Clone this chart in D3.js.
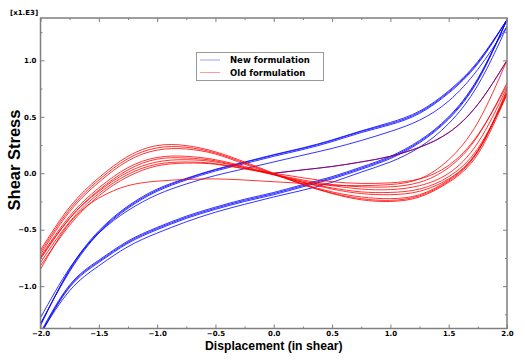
<!DOCTYPE html>
<html><head><meta charset="utf-8">
<script src="https://cdn.jsdelivr.net/npm/d3@7"></script>
<style>body{margin:0;background:#fff}svg{display:block}</style>
</head><body>
<svg id="c" width="525" height="361"></svg>
<script>
// ---- data (x1.E3 shear stress vs displacement) ----
const xGrid = [-2,-1.75,-1.5,-1.25,-1,-0.75,-0.5,-0.25,0,0.25,0.5,0.75,1,1.25,1.5,1.75,2];
const xInit = [0,0.25,0.5,0.75,1,1.25,1.5,1.75,2];
const initialLoading = [0,0.03,0.06,0.10,0.15,0.23,0.36,0.61,1.0];

// New formulation (blue)
const newUpperA = [-1.34,-0.86,-0.52,-0.30,-0.15,-0.05,0.03,0.095,0.16,0.22,0.29,0.37,0.44,0.54,0.72,0.98,1.36];
const newUpperB = [-1.33,-0.87,-0.53,-0.31,-0.16,-0.06,0.02,0.085,0.15,0.21,0.28,0.36,0.43,0.53,0.71,0.97,1.36];
const newUpperC = [-1.35,-0.85,-0.51,-0.29,-0.14,-0.045,0.035,0.10,0.165,0.225,0.295,0.375,0.45,0.55,0.73,0.99,1.36];
const newUpperD = [-1.28,-0.84,-0.53,-0.33,-0.19,-0.095,-0.02,0.04,0.10,0.16,0.22,0.29,0.37,0.47,0.64,0.92,1.30];
const newLowerA = [-1.42,-1.00,-0.78,-0.61,-0.49,-0.39,-0.31,-0.24,-0.18,-0.11,-0.04,0.045,0.14,0.28,0.49,0.83,1.36];
const newLowerB = [-1.41,-0.99,-0.77,-0.60,-0.48,-0.38,-0.30,-0.23,-0.17,-0.10,-0.03,0.055,0.15,0.29,0.50,0.84,1.36];
const newLowerC = [-1.43,-1.01,-0.79,-0.62,-0.50,-0.40,-0.32,-0.25,-0.19,-0.12,-0.05,0.035,0.13,0.27,0.48,0.82,1.36];
const newLowerD = [-1.42,-1.04,-0.82,-0.65,-0.53,-0.43,-0.345,-0.275,-0.21,-0.15,-0.08,0.01,0.10,0.23,0.44,0.78,1.30];

// Old formulation (red)
const oldCycle1 = [-0.68,-0.30,-0.04,0.15,0.245,0.245,0.19,0.10,0.00,-0.10,-0.18,-0.235,-0.25,-0.21,-0.08,0.17,0.70];
const oldCycle2 = [-0.70,-0.32,-0.06,0.13,0.225,0.23,0.18,0.09,-0.005,-0.10,-0.175,-0.225,-0.24,-0.20,-0.07,0.19,0.72];
const oldCycle3 = [-0.72,-0.34,-0.08,0.11,0.205,0.215,0.17,0.08,-0.01,-0.095,-0.165,-0.21,-0.225,-0.19,-0.06,0.20,0.74];
const oldCycle4 = [-0.74,-0.38,-0.13,0.05,0.14,0.15,0.12,0.06,-0.01,-0.08,-0.14,-0.18,-0.19,-0.16,-0.05,0.20,0.72];
const oldCycle5 = [-0.76,-0.40,-0.15,0.03,0.125,0.135,0.11,0.05,-0.015,-0.08,-0.13,-0.165,-0.17,-0.14,-0.03,0.22,0.70];
const oldCycle6 = [-0.75,-0.40,-0.16,0.01,0.10,0.12,0.10,0.05,-0.01,-0.07,-0.11,-0.14,-0.145,-0.11,0.00,0.27,0.76];
const oldCycle7 = [-0.79,-0.43,-0.18,-0.01,0.08,0.10,0.085,0.04,-0.01,-0.06,-0.10,-0.12,-0.12,-0.08,0.05,0.33,0.80];
const oldCycle8 = [-0.82,-0.46,-0.20,-0.03,0.065,0.09,0.08,0.04,0.00,-0.04,-0.075,-0.09,-0.085,-0.05,0.07,0.34,0.78];
const oldFirstUnload = [-0.85,-0.44,-0.22,-0.11,-0.07,-0.055,-0.05,-0.06,-0.075,-0.09,-0.105,-0.11,-0.10,-0.05,0.12,0.45,1.00];

const newSeries = [newUpperA,newUpperB,newUpperC,newUpperD,newLowerA,newLowerB,newLowerC,newLowerD];
const oldSeries = [oldCycle1,oldCycle2,oldCycle3,oldCycle4,oldCycle5,oldCycle6,oldCycle7,oldCycle8,oldFirstUnload];

const xMajor = [-2,-1.5,-1,-0.5,0,0.5,1,1.5,2];
const xMinor = [-1.75,-1.25,-0.75,-0.25,0.25,0.75,1.25,1.75];
const yMajor = [-1,-0.5,0,0.5,1];
const yMinor = [-1.25,-0.75,-0.25,0.25,0.75,1.25];
const legendLabels = ["New formulation","Old formulation"];

// ---- drawing ----
const L=40.5, R=507, T=18, B=328.5;
const svg = d3.select("#c");
const x = d3.scaleLinear().domain([-2,2]).range([L,R]);
const y = d3.scaleLinear().domain([-1.375,1.375]).range([B,T]);

svg.append("defs").append("clipPath").attr("id","clip")
  .append("rect").attr("x",L).attr("y",T).attr("width",R-L).attr("height",B-T);

const line = d3.line().x(d=>x(d[0])).y(d=>y(d[1])).curve(d3.curveNatural);
const g = svg.append("g").attr("clip-path","url(#clip)");

const BLUE="#0000ff", RED="#ff0000";
newSeries.forEach(s=>{
  g.append("path").attr("d",line(xGrid.map((v,i)=>[v,s[i]])))
   .attr("fill","none").attr("stroke",BLUE).attr("stroke-width",1).attr("stroke-opacity",0.8);
});
g.append("path").attr("d",line(xInit.map((v,i)=>[v,initialLoading[i]])))
   .attr("fill","none").attr("stroke",BLUE).attr("stroke-width",1);
oldSeries.forEach(s=>{
  g.append("path").attr("d",line(xGrid.map((v,i)=>[v,s[i]])))
   .attr("fill","none").attr("stroke",RED).attr("stroke-width",1).attr("stroke-opacity",0.8);
});
g.append("path").attr("d",line(xInit.map((v,i)=>[v,initialLoading[i]])))
   .attr("fill","none").attr("stroke",RED).attr("stroke-width",1).attr("stroke-opacity",0.6);

// axes
const AX="#7f7f7f";
const fmt = d3.format(".1f");
function styleAxis(sel){
  sel.select(".domain").remove();
  sel.selectAll("line").attr("stroke",AX).attr("stroke-width",1);
  sel.selectAll("text").attr("fill","#000").style("font-family","'DejaVu Sans',Verdana,sans-serif")
     .style("font-size","7px").style("font-weight","bold");
}
svg.append("g").attr("transform",`translate(0,${B})`)
  .call(d3.axisBottom(x).tickValues(xMajor).tickSize(-4).tickPadding(3).tickFormat(fmt)).call(styleAxis);
svg.append("g").attr("transform",`translate(0,${B})`)
  .call(d3.axisBottom(x).tickValues(xMinor).tickSize(-2).tickFormat("")).call(styleAxis);
svg.append("g").attr("transform",`translate(0,${T})`)
  .call(d3.axisTop(x).tickValues(xMajor).tickSize(-4).tickFormat("")).call(styleAxis);
svg.append("g").attr("transform",`translate(0,${T})`)
  .call(d3.axisTop(x).tickValues(xMinor).tickSize(-2).tickFormat("")).call(styleAxis);
svg.append("g").attr("transform",`translate(${L},0)`)
  .call(d3.axisLeft(y).tickValues(yMajor).tickSize(-4).tickPadding(4).tickFormat(fmt)).call(styleAxis);
svg.append("g").attr("transform",`translate(${L},0)`)
  .call(d3.axisLeft(y).tickValues(yMinor).tickSize(-2).tickFormat("")).call(styleAxis);
svg.append("g").attr("transform",`translate(${R},0)`)
  .call(d3.axisRight(y).tickValues(yMajor).tickSize(-4).tickFormat("")).call(styleAxis);
svg.append("g").attr("transform",`translate(${R},0)`)
  .call(d3.axisRight(y).tickValues(yMinor).tickSize(-2).tickFormat("")).call(styleAxis);

svg.append("rect").attr("x",L).attr("y",T).attr("width",R-L).attr("height",B-T)
  .attr("fill","none").attr("stroke",AX).attr("stroke-width",1.5);

svg.append("text").attr("x",10).attr("y",15).text("[x1.E3]")
  .style("font-family","'DejaVu Sans',Verdana,sans-serif").style("font-size","7px").style("font-weight","bold");

svg.append("text").attr("x",(L+R)/2).attr("y",350).attr("text-anchor","middle")
  .text("Displacement (in shear)")
  .style("font-family","'Liberation Sans',Arial,sans-serif").style("font-size","12.2px").style("font-weight","bold");
svg.append("text").attr("transform",`translate(20,160) rotate(-90)`).attr("text-anchor","middle")
  .text("Shear Stress")
  .style("font-family","'Liberation Sans',Arial,sans-serif").style("font-size","16.5px").style("font-weight","bold");

// legend
const lg = svg.append("g");
lg.append("rect").attr("x",196.5).attr("y",52.5).attr("width",127).attr("height",28)
  .attr("fill","#fff").attr("stroke","#999").attr("stroke-width",1);
const legendColors = ["#9aa0ff","#ff9a9a"];
legendLabels.forEach((t,i)=>{
  const yy = 60 + i*12.5;
  lg.append("line").attr("x1",200).attr("x2",220).attr("y1",yy).attr("y2",yy)
    .attr("stroke",legendColors[i]).attr("stroke-width",1);
  lg.append("text").attr("x",230).attr("y",yy+3).text(t)
    .style("font-family","'DejaVu Sans',Verdana,sans-serif").style("font-size","8.5px").style("font-weight","bold");
});
</script>
</body></html>
